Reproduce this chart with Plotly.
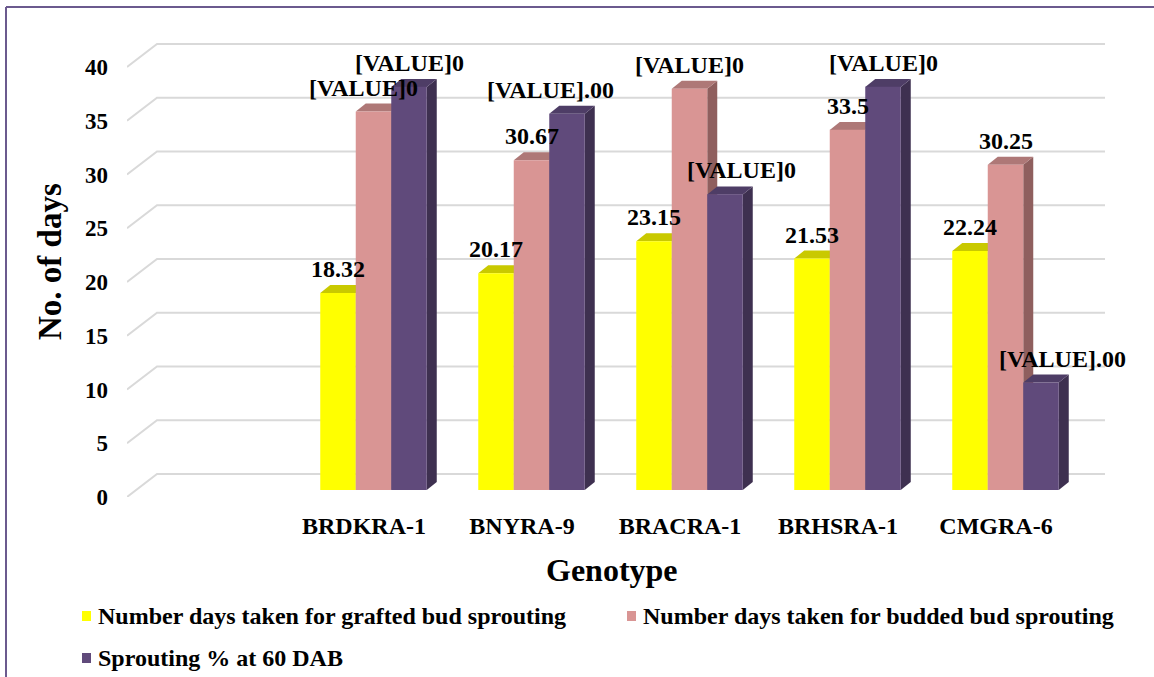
import plotly.graph_objects as go

# ---- data ----
genotypes = ["BRDKRA-1", "BNYRA-9", "BRACRA-1", "BRHSRA-1", "CMGRA-6"]
grafted_days = [18.32, 20.17, 23.15, 21.53, 22.24]
budded_days = [35.2, 30.67, 37.33, 33.5, 30.25]
sprouting_pct = [37.5, 35.0, 27.5, 37.5, 10.0]

grafted_labels = ["18.32", "20.17", "23.15", "21.53", "22.24"]
budded_labels = ["[VALUE]0", "30.67", "[VALUE]0", "33.5", "30.25"]
sprouting_labels = ["[VALUE]0", "[VALUE].00", "[VALUE]0", "[VALUE]0", "[VALUE].00"]

series_names = [
    "Number days taken for grafted bud sprouting",
    "Number days taken for budded bud sprouting",
    "Sprouting % at 60 DAB",
]
y_ticks = [0, 5, 10, 15, 20, 25, 30, 35, 40]

# ---- style ----
FONT = "Liberation Serif"
front_colors = ["#FFFF00", "#D99594", "#604A7B"]
top_colors = ["#C9C900", "#AE7877", "#4E3D66"]
side_colors = ["#B0B000", "#8F5F5E", "#3E3050"]
grid_color = "#D9D9D9"
frame_color = "#6B5A8E"

# horizontal pixel shifts of a few data labels (per series)
label_shift_px = [
    [0, 0, 0, 0, 0],
    [-10, 0, 0, 0, 0],
    [0, -17, 16, 0, 21],
]

# ---- geometry of the pseudo-3D box ----
W, H = 1154, 677
L, R, T, B = 127, 49, 40, 180
plot_w = W - L - R
plot_h = H - T - B
slot_px = 158.0          # pixels per category slot
unit_px = 10.75          # pixels per y unit
x_lo = -0.5
x_hi = x_lo + plot_w / slot_px
y_hi = plot_h / unit_px


def sx(px):
    return px / slot_px


def sy(px):
    return px / unit_px


DX, DY = sx(30), sy(23)      # depth of the whole floor / back wall
bx, by = sx(9.5), sy(7)      # bar front plane offset from the front edge
ddx, ddy = sx(10), sy(8)     # bar depth
bargap = 0.326
bw = (1 - bargap) / 3

fig = go.Figure()

# back wall gridlines with the diagonal side-wall strokes
gx, gy = [], []
n_slots = 6
for v in y_ticks:
    gx += [x_lo, x_lo + DX, x_lo + n_slots + DX, None]
    gy += [v, v + DY, v + DY, None]
fig.add_trace(go.Scatter(x=gx, y=gy, mode="lines",
                         line=dict(color=grid_color, width=2),
                         hoverinfo="skip", showlegend=False))

# side and top faces of each bar
all_series = [grafted_days, budded_days, sprouting_pct]
for k, vals in enumerate(all_series):
    side_x, side_y, top_x, top_y = [], [], [], []
    for i, v in enumerate(vals):
        cx = (i + 1) + bx + (k - 1) * bw
        x0, x1 = cx - bw / 2, cx + bw / 2
        y0, y1 = by, by + v
        side_x += [x1, x1, x1 + ddx, x1 + ddx, x1, None]
        side_y += [y0, y1, y1 + ddy, y0 + ddy, y0, None]
        top_x += [x0, x1, x1 + ddx, x0 + ddx, x0, None]
        top_y += [y1, y1, y1 + ddy, y1 + ddy, y1, None]
    fig.add_trace(go.Scatter(x=side_x, y=side_y, mode="lines", fill="toself",
                             fillcolor=side_colors[k], line=dict(width=0, color=side_colors[k]),
                             hoverinfo="skip", showlegend=False))
    fig.add_trace(go.Scatter(x=top_x, y=top_y, mode="lines", fill="toself",
                             fillcolor=top_colors[k], line=dict(width=0, color=top_colors[k]),
                             hoverinfo="skip", showlegend=False))

# front faces of the bars
positions = list(range(1, len(genotypes) + 1))
for k, vals in enumerate(all_series):
    fig.add_trace(go.Bar(x=positions, y=vals, name=series_names[k],
                         marker=dict(color=front_colors[k], line=dict(width=0)),
                         xaxis="x2", yaxis="y2", showlegend=False))

# data labels
annotations = []
all_labels = [grafted_labels, budded_labels, sprouting_labels]
for k, vals in enumerate(all_series):
    for i, v in enumerate(vals):
        cx = (i + 1) + bx + (k - 1) * bw + sx(label_shift_px[k][i])
        annotations.append(dict(
            x=cx, y=by + v + ddy, xref="x", yref="y",
            text="<b>" + all_labels[k][i] + "</b>", showarrow=False,
            xanchor="center", yanchor="bottom", yshift=1,
            font=dict(family=FONT, size=24, color="black"),
        ))


def px_x(px):
    return (px - L) / plot_w


def px_y(py):
    return (H - B - py) / plot_h


# axis titles
annotations.append(dict(x=px_x(612), y=px_y(570), xref="paper", yref="paper",
                        text="<b>Genotype</b>", showarrow=False,
                        xanchor="center", yanchor="middle",
                        font=dict(family=FONT, size=32, color="black")))
annotations.append(dict(x=px_x(50), y=px_y(262), xref="paper", yref="paper",
                        text="<b>No. of days</b>", showarrow=False, textangle=-90,
                        xanchor="center", yanchor="middle",
                        font=dict(family=FONT, size=33, color="black")))

# legend
shapes = []
legend_items = [(82, 616), (627, 616), (82, 658)]
for k, (lx, ly) in enumerate(legend_items):
    shapes.append(dict(type="rect", xref="paper", yref="paper",
                       x0=px_x(lx), x1=px_x(lx + 9), y0=px_y(ly + 5), y1=px_y(ly - 5),
                       fillcolor=front_colors[k], line=dict(width=0)))
    annotations.append(dict(x=px_x(lx + 14), y=px_y(ly), xref="paper", yref="paper",
                            text="<b>" + series_names[k] + "</b>", showarrow=False,
                            xanchor="left", yanchor="middle",
                            font=dict(family=FONT, size=24, color="black")))

# chart frame (left and top edges)
shapes.append(dict(type="line", xref="paper", yref="paper",
                   x0=px_x(6), x1=px_x(6), y0=px_y(7), y1=px_y(700),
                   line=dict(color=frame_color, width=2)))
shapes.append(dict(type="line", xref="paper", yref="paper",
                   x0=px_x(6), x1=px_x(1170), y0=px_y(7), y1=px_y(7),
                   line=dict(color=frame_color, width=2)))

fig.update_layout(
    width=W, height=H,
    margin=dict(l=L, r=R, t=T, b=B, pad=0),
    paper_bgcolor="white", plot_bgcolor="white",
    barmode="group", bargap=bargap, bargroupgap=0,
    showlegend=False,
    annotations=annotations, shapes=shapes,
    xaxis=dict(range=[x_lo, x_hi], tickvals=positions,
               ticktext=["<b>" + g + "</b>" for g in genotypes],
               showgrid=False, zeroline=False, showline=False, ticks="",
               ticklabelstandoff=12,
               tickfont=dict(family=FONT, size=24, color="black")),
    yaxis=dict(range=[0, y_hi], tickvals=y_ticks,
               ticktext=["<b>%d</b>" % t for t in y_ticks],
               showgrid=False, zeroline=False, showline=False, ticks="",
               ticklabelstandoff=18,
               tickfont=dict(family=FONT, size=23, color="black")),
    xaxis2=dict(range=[x_lo - bx, x_hi - bx], overlaying="x", anchor="y2",
                visible=False),
    yaxis2=dict(range=[-by, y_hi - by], overlaying="y", anchor="x2",
                visible=False),
)

fig.write_html("out.html")
